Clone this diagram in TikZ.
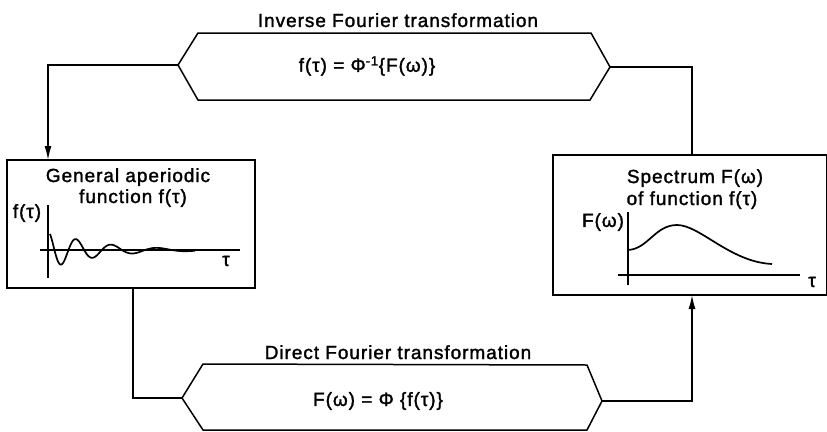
\documentclass[tikz,border=0pt]{standalone}
\usepackage{fontspec}
\setmainfont{Liberation Sans}[LetterSpace=5,FakeBold=1.6]
\usetikzlibrary{arrows.meta}
\begin{document}
\begin{tikzpicture}[x=1pt,y=-1pt,
  line width=1.5pt,
  txt/.style={inner sep=0pt,font=\fontsize{19}{21}\selectfont},
  btxt/.style={txt,anchor=base},
  box/.style={draw,inner sep=0pt},
  arr/.style={-{Latex[length=14pt,width=7pt]}},
  ax/.style={line width=1.2pt}]
\useasboundingbox (0,0) rectangle (827,431);
% boxes
\node[box,minimum width=248pt,minimum height=128pt] (lbox) at (131,224) {};
\node[box,minimum width=274pt,minimum height=140pt] (rbox) at (690,225) {};
% hexagon tips
\coordinate (invL) at (178,65);
\coordinate (invR) at (610,67);
\coordinate (dirL) at (182,398);
\coordinate (dirR) at (602,401);
\draw (invL) -- (198,33) -- (591,33) -- (invR) -- (590,100) -- (198,100) -- cycle;
\draw (dirL) -- (203,364) -- (587,365) -- (dirR) -- (587,430) -- (203,430) -- cycle;
% labels
\node[btxt] (invT) at (398,27) {Inverse Fourier transformation};
\node[txt] (invF) at (367,66) {f(τ) = Φ\textsuperscript{-1}\{F(ω)\}};
\node[btxt] (dirT) at (398,359) {Direct Fourier transformation};
\node[txt] (dirF) at (378,401) {F(ω) = Φ \{f(τ)\}};
% connectors
\coordinate (lin) at (48,160);
\coordinate (lout) at (133,288);
\coordinate (rin) at (692,295);
\coordinate (rout) at (692,155);
\draw[arr] (invL) -| (lin);
\draw (invR) -| (rout);
\draw (lout) |- (dirL);
\draw[arr] (dirR) -| (rin);
% left box content
\node[btxt] (ltext1) at (128,182) {General aperiodic};
\node[btxt] (ltext2) at (133,203) {function f(τ)};
\draw[ax] (48,205) -- (48,278);
\draw[ax] (40,250) -- (240,250);
\node[txt] (lfy) at (27,213) {f(τ)};
\node[txt] (ltau) at (226,261) {τ};
\draw[line width=1.7pt,smooth,samples=220,domain=2:147]
  plot ({48+\x},{250-19*exp(-\x/50)*cos(deg(\x/(4.0+\x/60)))});
% right box content
\node[btxt] (rtext1) at (695,183) {Spectrum F(ω)};
\node[btxt] (rtext2) at (692,205) {of function f(τ)};
\draw[ax] (628,212) -- (628,285);
\draw[ax] (618,275) -- (800,275);
\node[txt] (rfy) at (603,222) {F(ω)};
\node[txt] (rtau) at (812,282) {τ};
\draw[line width=1.7pt] (628,250) .. controls (648,249) and (655,225) .. (677,225)
  .. controls (700,225) and (730,262) .. (772,264);
\end{tikzpicture}
\end{document}
